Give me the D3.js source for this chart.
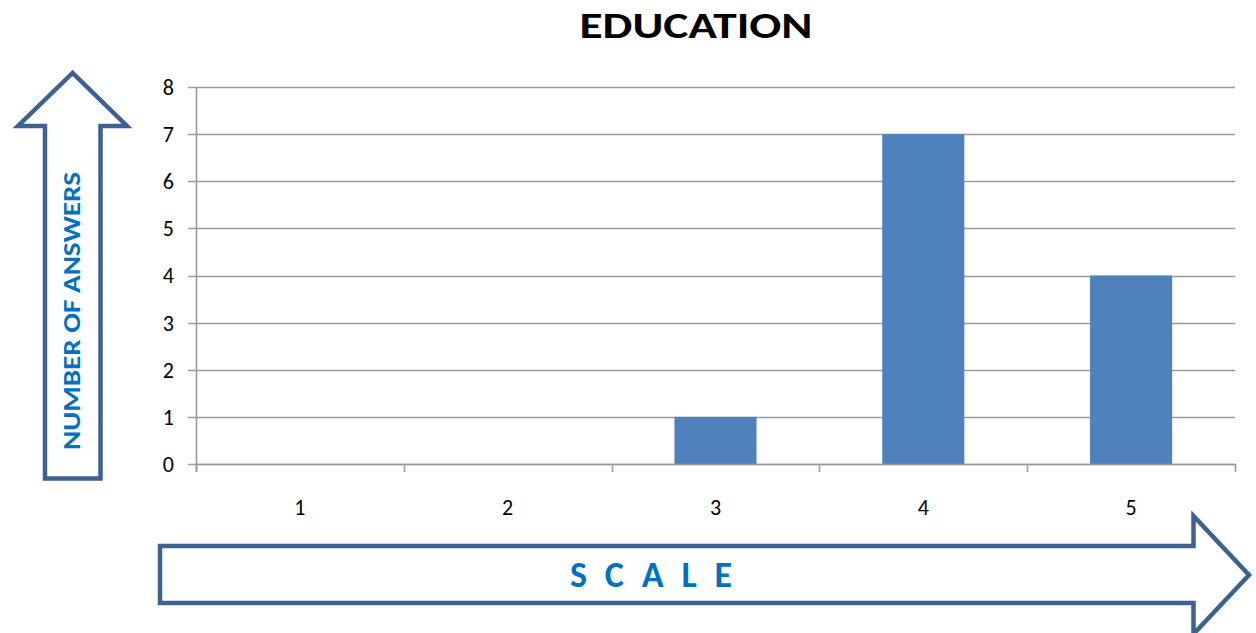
<!DOCTYPE html>
<html>
<head>
<meta charset="utf-8">
<script src="https://cdn.jsdelivr.net/npm/d3@7"></script>
<style>
  html, body { margin: 0; padding: 0; background: #fff; }
  svg { display: block; }
</style>
</head>
<body>
<svg id="chart" width="1256" height="633"></svg>
<script>
const title = "EDUCATION";
const categories = ["1", "2", "3", "4", "5"];
const values = [0, 0, 1, 7, 4];
const yTicks = [0, 1, 2, 3, 4, 5, 6, 7, 8];
const yLabel = "NUMBER OF ANSWERS";
const xLabel = "SCALE";

const svg = d3.select("#chart");
const font = "Carlito, Calibri, Lato, 'Open Sans', sans-serif";
const gridColor = "#9a9a9a";
const arrowColor = "#3E6191";
const labelBlue = "#0070C0";

const plotL = 196, plotR = 1235, plotT = 87, plotB = 464;

const x = d3.scaleBand().domain(categories).range([plotL, plotR])
  .paddingInner(0.605).paddingOuter(0.3025);
const xEdge = d3.scaleBand().domain(categories).range([plotL, plotR]).padding(0);
const y = d3.scaleLinear().domain([0, 8]).range([plotB, plotT]);

// gridlines
svg.append("g").selectAll("line").data(yTicks).join("line")
  .attr("x1", plotL - 8).attr("x2", plotR)
  .attr("y1", d => Math.round(y(d)) + 0.5).attr("y2", d => Math.round(y(d)) + 0.5)
  .attr("stroke", gridColor).attr("stroke-width", 1.6);

// y tick labels
svg.append("g").selectAll("text").data(yTicks).join("text")
  .attr("x", 174).attr("y", d => y(d))
  .attr("dy", "0.36em").attr("text-anchor", "end")
  .attr("font-family", font).attr("font-size", 22).attr("fill", "#000")
  .text(d => d);

// bars
svg.append("g").selectAll("rect").data(values).join("rect")
  .attr("x", (d, i) => x(categories[i]))
  .attr("width", x.bandwidth())
  .attr("y", d => y(d))
  .attr("height", d => y(0) - y(d))
  .attr("fill", "#4F81BD");

// y axis line
svg.append("line")
  .attr("x1", plotL + 0.5).attr("x2", plotL + 0.5)
  .attr("y1", plotT).attr("y2", plotB + 8)
  .attr("stroke", gridColor).attr("stroke-width", 1.6);

// x axis line
svg.append("line")
  .attr("x1", plotL).attr("x2", plotR)
  .attr("y1", Math.round(y(0)) + 0.5).attr("y2", Math.round(y(0)) + 0.5)
  .attr("stroke", gridColor).attr("stroke-width", 1.6);

// x ticks at band boundaries
const edges = categories.map(c => xEdge(c)).concat([plotR]);
svg.append("g").selectAll("line").data(edges).join("line")
  .attr("x1", d => Math.round(d) + 0.5).attr("x2", d => Math.round(d) + 0.5)
  .attr("y1", plotB).attr("y2", plotB + 8)
  .attr("stroke", gridColor).attr("stroke-width", 1.6);

// x labels
svg.append("g").selectAll("text").data(categories).join("text")
  .attr("x", d => xEdge(d) + xEdge.bandwidth() / 2)
  .attr("y", 515).attr("text-anchor", "middle")
  .attr("font-family", font).attr("font-size", 22).attr("fill", "#000")
  .text(d => d);

// title
svg.append("text")
  .attr("x", 696).attr("y", 38).attr("text-anchor", "middle")
  .attr("font-family", font).attr("font-weight", "bold").attr("font-size", 36)
  .attr("textLength", 233).attr("lengthAdjust", "spacingAndGlyphs")
  .attr("fill", "#000").text(title);

// up arrow
const upArrow = [[72.5, 73], [18, 126], [45, 126], [45, 478.5], [100.5, 478.5], [100.5, 126], [127, 126]];
svg.append("polygon")
  .attr("points", upArrow.map(p => p.join(",")).join(" "))
  .attr("fill", "#fff").attr("stroke", arrowColor).attr("stroke-width", 4.5)
  .attr("stroke-linejoin", "miter");

svg.append("text")
  .attr("transform", "translate(80,311) rotate(-90)")
  .attr("text-anchor", "middle")
  .attr("font-family", font).attr("font-weight", "bold").attr("font-size", 25)
  .attr("textLength", 278).attr("lengthAdjust", "spacingAndGlyphs")
  .attr("fill", labelBlue).text(yLabel);

// right arrow
const rightArrow = [[160, 546], [1193.5, 546], [1193.5, 516], [1249, 575], [1193.5, 634], [1193.5, 603], [160, 603]];
svg.append("polygon")
  .attr("points", rightArrow.map(p => p.join(",")).join(" "))
  .attr("fill", "#fff").attr("stroke", arrowColor).attr("stroke-width", 4.5)
  .attr("stroke-linejoin", "miter");

svg.append("text")
  .attr("x", 570).attr("y", 587)
  .attr("font-family", font).attr("font-weight", "bold").attr("font-size", 36)
  .attr("textLength", 162).attr("lengthAdjust", "spacing")
  .attr("fill", labelBlue).text(xLabel);
</script>
</body>
</html>
